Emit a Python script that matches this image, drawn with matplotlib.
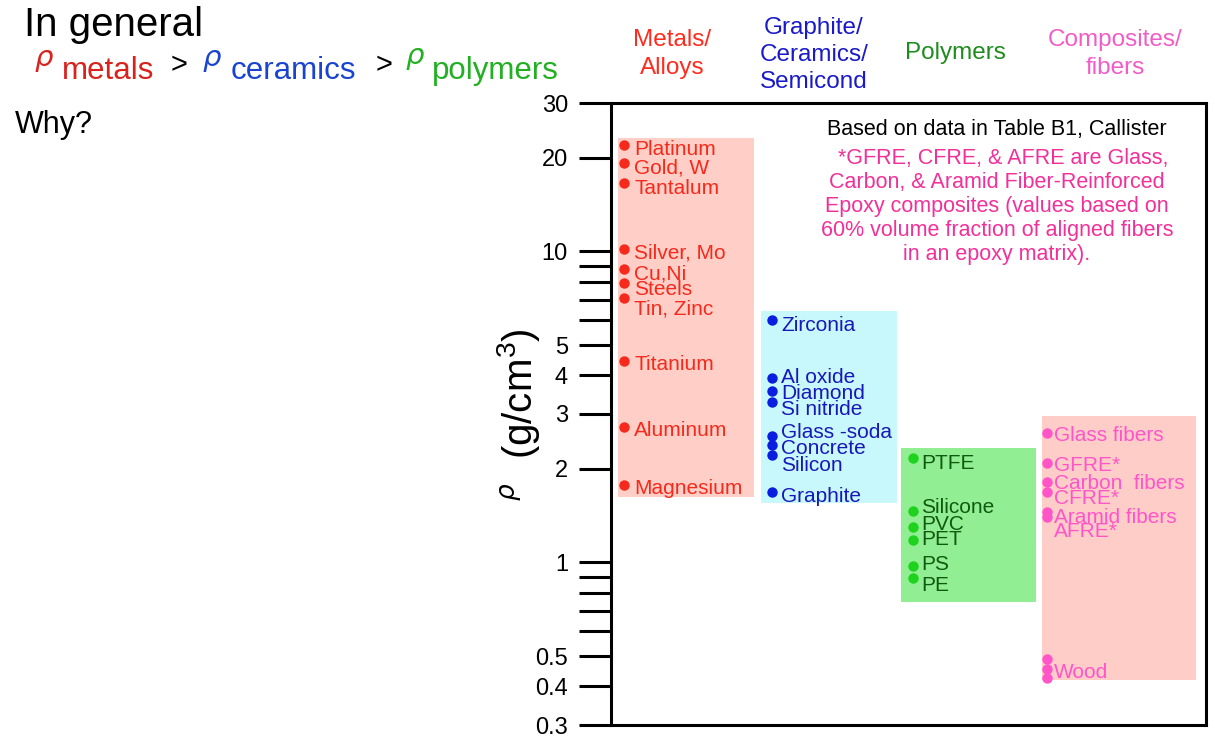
import matplotlib
matplotlib.use("Agg")
import matplotlib.pyplot as plt
from matplotlib.ticker import FixedLocator, NullFormatter, FixedFormatter

plt.rcParams['font.family'] = ['Liberation Sans', 'DejaVu Sans']
plt.rcParams['mathtext.fontset'] = 'custom'
plt.rcParams['mathtext.rm'] = 'Liberation Sans'
plt.rcParams['mathtext.it'] = 'Liberation Sans:italic'

# ---------------- data ----------------
metal_names = ["Platinum", "Gold, W", "Tantalum", "Silver, Mo", "Cu,Ni", "Steels",
               "Tin, Zinc", "Titanium", "Aluminum", "Magnesium"]
metal_rho = [22.0, 19.3, 16.6, 10.2, 8.8, 7.9, 7.1, 4.45, 2.72, 1.78]
metal_range = [1.62, 23.1]

ceramic_names = ["Zirconia", "Al oxide", "Diamond", "Si nitride", "Glass -soda",
                 "Concrete", "Silicon", "Graphite"]
ceramic_rho = [6.0, 3.93, 3.56, 3.29, 2.55, 2.38, 2.22, 1.68]
ceramic_range = [1.55, 6.44]

polymer_names = ["PTFE", "Silicone", "PVC", "PET", "PS", "PE"]
polymer_rho = [2.16, 1.46, 1.30, 1.18, 0.97, 0.89]
polymer_range = [0.747, 2.33]

composite_names = ["Glass fibers", "GFRE*", "Carbon  fibers", "CFRE*", "Aramid fibers", "AFRE*"]
composite_rho = [2.60, 2.08, 1.82, 1.69, 1.45, 1.40]
wood_rho = [0.49, 0.455, 0.425]
composite_range = [0.419, 2.95]

major_ticks = [0.3, 0.4, 0.5, 1, 2, 3, 4, 5, 10, 20, 30]
major_labels = ["0.3", "0.4", "0.5", "1", "2", "3", "4", "5", "10", "20", "30"]
minor_ticks = [0.6, 0.7, 0.8, 0.9, 6, 7, 8, 9]

# ---------------- layout / style ----------------
W, H = 1215, 738
fig = plt.figure(figsize=(W / 100, H / 100), dpi=100)


def fx(x):
    return x / W


def fy(y):
    return 1 - y / H


ax = fig.add_axes([fx(611), fy(725), (1206 - 611) / W, (725 - 103) / H])
ax.set_yscale('log')
ax.set_ylim(0.3, 30)
ax.set_xlim(0, 1)
for s in ax.spines.values():
    s.set_linewidth(2.2)
ax.tick_params(axis='x', which='both', bottom=False, top=False, labelbottom=False)
ax.yaxis.set_major_locator(FixedLocator(major_ticks))
ax.yaxis.set_major_formatter(FixedFormatter(major_labels))
ax.yaxis.set_minor_locator(FixedLocator(minor_ticks))
ax.yaxis.set_minor_formatter(NullFormatter())
ax.tick_params(axis='y', which='both', length=23, width=2.2, direction='out',
               pad=8, labelsize=17, colors='black')

# per-group layout: box x-extent, dot x, label x, label pixel offsets
groups = [
    dict(names=metal_names, rho=metal_rho, rng=metal_range,
         box=(0.011, 0.240), dx=0.022, lx=0.039,
         offs=[3, 3.3, 3.3, 2.4, 3.4, 4.4, 9.3, 2.3, 1.7, 2.4],
         box_c='#FFCEC6', dot_c='#F52A1C', txt_c='#F52A1C'),
    dict(names=ceramic_names, rho=ceramic_rho, rng=ceramic_range,
         box=(0.252, 0.480), dx=0.270, lx=0.286,
         offs=[3.3, -1.7, 1, 6.3, -5, 1.7, 8.7, 2],
         box_c='#C8F8FC', dot_c='#0A1EE0', txt_c='#1818B8'),
    dict(names=polymer_names, rho=polymer_rho, rng=polymer_range,
         box=(0.487, 0.715), dx=0.507, lx=0.521,
         offs=[3.4, -5.7, -4, -2.7, -4, 5.3],
         box_c='#92EE92', dot_c='#1ED21E', txt_c='#0E5A0E'),
    dict(names=composite_names, rho=composite_rho, rng=composite_range,
         box=(0.725, 0.983), dx=0.733, lx=0.745,
         offs=[0, 0.7, 0, 5.3, 4, 12.7],
         box_c='#FFCDC8', dot_c='#FF55C8', txt_c='#FF55C8'),
]

LABEL_FS = 15
BASE_SHIFT = 7.3  # px from visual centre to baseline
MS = 7.5
for g in groups:
    x0, x1 = g['box']
    ax.fill_between([x0, x1], g['rng'][0], g['rng'][1], color=g['box_c'],
                    linewidth=0, zorder=1)
    ax.plot([g['dx']] * len(g['rho']), g['rho'], 'o', ms=MS, color=g['dot_c'],
            mec='none', zorder=3)
    for name, r, off in zip(g['names'], g['rho'], g['offs']):
        ax.annotate(name, xy=(g['lx'], r), xytext=(0, -(off + BASE_SHIFT) * 0.72),
                    textcoords='offset points', ha='left', va='baseline',
                    fontsize=LABEL_FS, color=g['txt_c'], zorder=4)

# wood (composites group)
ax.plot([groups[3]['dx']] * len(wood_rho), wood_rho, 'o', ms=MS,
        color=groups[3]['dot_c'], mec='none', zorder=3)
ax.annotate("Wood", xy=(groups[3]['lx'], wood_rho[1]),
            xytext=(0, -(1.7 + BASE_SHIFT) * 0.72), textcoords='offset points',
            ha='left', va='baseline', fontsize=LABEL_FS, color=groups[3]['txt_c'], zorder=4)

# notes inside axes
fig.text(fx(997), fy(130), "Based on data in Table B1, Callister", ha='center', va='center',
         fontsize=15.5, color='black')
fig.text(fx(997), fy(206.5),
         "  *GFRE, CFRE, & AFRE are Glass,\nCarbon, & Aramid Fiber-Reinforced\n"
         "Epoxy composites (values based on\n60% volume fraction of aligned fibers\n"
         "in an epoxy matrix).",
         ha='center', va='center', fontsize=15.5, color='#F2309A', linespacing=1.2)

# group headers
fig.text(fx(672), fy(54), "Metals/\nAlloys", ha='center', va='center', fontsize=17.5,
         color='#FF2B1E', linespacing=1.32)
fig.text(fx(814), fy(55), "Graphite/\nCeramics/\nSemicond", ha='center', va='center',
         fontsize=17.5, color='#1A1AC8', linespacing=1.3)
fig.text(fx(955), fy(53), "Polymers", ha='center', va='center', fontsize=17.5,
         color='#1E8C1E')
fig.text(fx(1115), fy(54), "Composites/\nfibers", ha='center', va='center', fontsize=17.5,
         color='#F25CC8', linespacing=1.32)

# y label
fig.text(fx(518), fy(394), "(g/cm$^3$)", rotation=90, ha='center', va='center',
         fontsize=29, color='black')
fig.text(fx(508), fy(492), "ρ", rotation=90, ha='center', va='center', fontsize=19,
         color='black', family='DejaVu Sans', style='italic')

# heading
fig.text(fx(24), fy(36), "In general", ha='left', va='baseline', fontsize=29, color='black')
c_red, c_blue, c_green = '#D8221C', '#1A44D0', '#22B022'
rho_kw = dict(ha='center', va='center', fontsize=21, family='DejaVu Sans', style='italic')
fig.text(fx(44), fy(58), "ρ", color=c_red, **rho_kw)
fig.text(fx(62), fy(79), "metals", ha='left', va='baseline', fontsize=22.5, color=c_red)
fig.text(fx(171), fy(73), ">", ha='left', va='baseline', fontsize=21, color='black')
fig.text(fx(212), fy(58), "ρ", color=c_blue, **rho_kw)
fig.text(fx(231), fy(79), "ceramics", ha='left', va='baseline', fontsize=22.5, color=c_blue)
fig.text(fx(376), fy(73), ">", ha='left', va='baseline', fontsize=21, color='black')
fig.text(fx(415), fy(56), "ρ", color=c_green, **rho_kw)
fig.text(fx(432), fy(79), "polymers", ha='left', va='baseline', fontsize=22.5, color=c_green)
fig.text(fx(15), fy(133), "Why?", ha='left', va='baseline', fontsize=22, color='black')

fig.savefig("out.png", dpi=100)
